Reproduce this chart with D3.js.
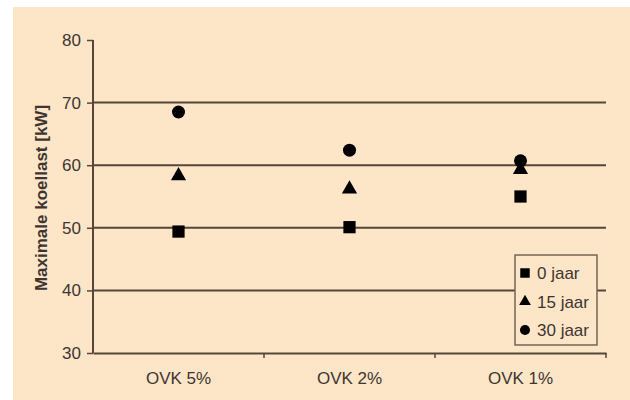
<!DOCTYPE html>
<html>
<head>
<meta charset="utf-8">
<script src="https://cdn.jsdelivr.net/npm/d3@7"></script>
<style>
  body { margin: 0; background: #fff; }
  svg { display: block; font-family: "Liberation Sans", Arial, sans-serif; }
</style>
</head>
<body>
<svg id="chart" width="630" height="400"></svg>
<script>
// data
var categories = ["OVK 5%", "OVK 2%", "OVK 1%"];
var series = ["0 jaar", "15 jaar", "30 jaar"];
var jaar0 = [49.4, 50.1, 55.0];
var jaar15 = [58.3, 56.2, 59.3];
var jaar30 = [68.5, 62.4, 60.7];
var yTicks = [30, 40, 50, 60, 70, 80];

var svg = d3.select("#chart"),
    margin = {top: 40, right: 24, bottom: 47, left: 93},
    width = +svg.attr("width") - margin.left - margin.right,
    height = +svg.attr("height") - margin.top - margin.bottom;

var ink = "#3f3530", line = "#55463a";

svg.append("rect")
    .attr("x", 13).attr("y", 7)
    .attr("width", 617).attr("height", 393)
    .attr("fill", "#fde6c7");

var g = svg.append("g").attr("transform", "translate(" + margin.left + "," + margin.top + ")");

var x = d3.scaleBand().domain(categories).range([0, width]);
var y = d3.scaleLinear().domain([30, 80]).range([height, 0]);

var shapes = [d3.symbolSquare, d3.symbolTriangle, d3.symbolCircle];
var sizes = [150, 100, 133];
var values = [jaar0, jaar15, jaar30];

// gridlines
g.append("g")
  .selectAll("line")
  .data(yTicks.filter(function(d) { return d > 30 && d < 80; }))
  .enter().append("line")
    .attr("x1", 0).attr("x2", width)
    .attr("y1", function(d) { return y(d); })
    .attr("y2", function(d) { return y(d); })
    .attr("stroke", line)
    .attr("stroke-width", 2);

// y axis
var yAxis = g.append("g")
    .call(d3.axisLeft(y).tickValues(yTicks).tickSize(6).tickPadding(6));
yAxis.select(".domain").attr("stroke", line).attr("stroke-width", 2)
    .attr("d", "M0," + y(80) + "V" + y(30));
yAxis.selectAll(".tick line").attr("stroke", line).attr("stroke-width", 1.5);
yAxis.selectAll(".tick text")
    .attr("fill", ink)
    .style("font-size", "17px");

// x axis
var xAxis = g.append("g")
    .attr("transform", "translate(0," + height + ")")
    .call(d3.axisBottom(x).tickSize(0).tickPadding(19));
xAxis.select(".domain").attr("stroke", line).attr("stroke-width", 2);
xAxis.selectAll(".tick text")
    .attr("fill", ink)
    .style("font-size", "17px");
xAxis.append("g")
  .selectAll("line")
  .data(categories)
  .enter().append("line")
    .attr("x1", function(d) { return x(d) + x.bandwidth(); })
    .attr("x2", function(d) { return x(d) + x.bandwidth(); })
    .attr("y1", 0).attr("y2", 5)
    .attr("stroke", line)
    .attr("stroke-width", 1.5);

// y label
svg.append("text")
    .attr("transform", "translate(47,198) rotate(-90)")
    .attr("text-anchor", "middle")
    .attr("fill", ink)
    .style("font-size", "17px")
    .style("font-weight", "bold")
    .text("Maximale koellast [kW]");

// points
values.forEach(function(vals, s) {
  g.append("g")
    .selectAll("path")
    .data(vals)
    .enter().append("path")
      .attr("transform", function(d, i) {
        return "translate(" + (x(categories[i]) + x.bandwidth() / 2) + "," + y(d) + ")";
      })
      .attr("d", d3.symbol().type(shapes[s]).size(sizes[s]))
      .attr("fill", "#000");
});

// legend
var legend = svg.append("g").attr("transform", "translate(515,255)");
legend.append("rect")
    .attr("width", 82).attr("height", 90)
    .attr("fill", "#fde6c7")
    .attr("stroke", "#76665a")
    .attr("stroke-width", 1.5);
series.forEach(function(name, s) {
  var row = legend.append("g").attr("transform", "translate(10," + (18 + s * 28.5) + ")");
  row.append("path")
      .attr("d", d3.symbol().type(shapes[s]).size(sizes[s] * 0.6))
      .attr("fill", "#000");
  row.append("text")
      .attr("x", 12).attr("dy", "0.36em")
      .attr("fill", ink)
      .style("font-size", "17px")
      .text(name);
});
</script>
</body>
</html>
